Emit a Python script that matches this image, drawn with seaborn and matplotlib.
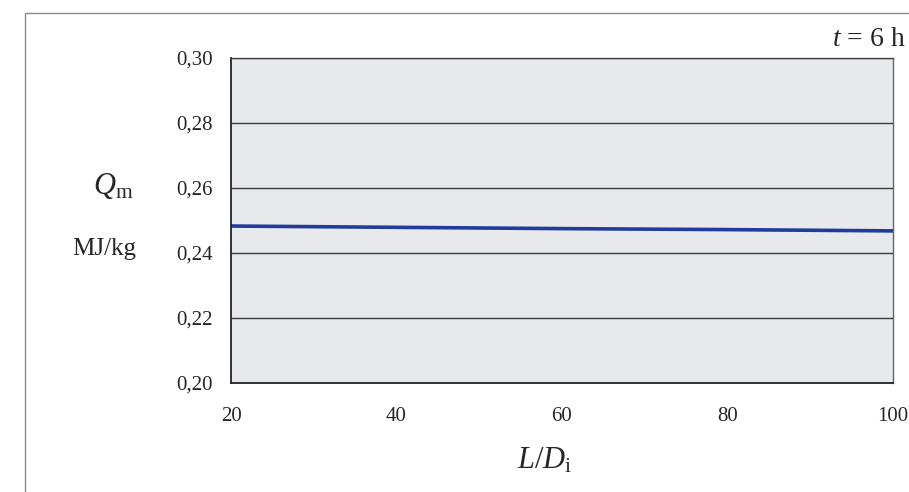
import matplotlib
matplotlib.use("Agg")
import matplotlib.pyplot as plt
import matplotlib.patches as patches
import seaborn as sns
import pandas as pd

# -----------------------
# Data
# -----------------------
ratio = [20, 40, 60, 80, 100]
heat = [0.2483, 0.2479, 0.2475, 0.2472, 0.2468]
y_ticks = [0.20, 0.22, 0.24, 0.26, 0.28, 0.30]
x_ticks = [20, 40, 60, 80, 100]

df = pd.DataFrame({"LD": ratio, "Qm": heat})

sns.set_theme(style="white")
plt.rcParams["font.family"] = ["Liberation Serif", "DejaVu Serif"]
plt.rcParams["mathtext.fontset"] = "custom"
plt.rcParams["mathtext.rm"] = "Liberation Serif"
plt.rcParams["mathtext.it"] = "Liberation Serif:italic"

fig = plt.figure(figsize=(9.09, 4.92), dpi=100)
ax = fig.add_axes([231 / 909, 1 - 383 / 492, (893 - 231) / 909, (383 - 58) / 492])

# outer frame of the chart
frame = patches.Rectangle((25 / 909, -0.1), 1.0, 1 - 13 / 492 + 0.1, transform=fig.transFigure,
                          fill=False, edgecolor="#8a8a8a", linewidth=1.0)
fig.patches.append(frame)

ax.set_facecolor("#e7e9ec")
sns.lineplot(data=df, x="LD", y="Qm", ax=ax, color="#1f3c9c", linewidth=2.6)

ax.set_xlim(20, 100)
ax.set_ylim(0.20, 0.30)
ax.set_xticks(x_ticks)
ax.set_yticks(y_ticks)
ax.set_xticklabels([str(v) for v in x_ticks], fontsize=15)
ax.set_yticklabels([f"{v:.2f}".replace(".", ",") for v in y_ticks], fontsize=15)
ax.yaxis.grid(True, color="#3a3a3a", linewidth=1.0)
ax.set_axisbelow(False)
ax.tick_params(axis="y", direction="out", length=7, width=1, color="#222222", pad=6)
ax.tick_params(axis="x", direction="inout", length=6, width=1, color="#222222", pad=14)
ax.set_xlabel("")
ax.set_ylabel("")

for side in ["left", "bottom"]:
    ax.spines[side].set_color("#222222")
    ax.spines[side].set_linewidth(1.3)
for side in ["top", "right"]:
    ax.spines[side].set_color("#666666")
    ax.spines[side].set_linewidth(1.0)

fig.text(113 / 909, 1 - 186 / 492, r"$Q_{\mathrm{m}}$", fontsize=22, ha="center", va="center")
fig.text(104 / 909, 1 - 249 / 492, "MJ/kg", fontsize=18, ha="center", va="center")
fig.text(905 / 909, 1 - 40 / 492, r"$t$ = 6 h", fontsize=20, ha="right", va="center")
fig.text(545 / 909, 1 - 461 / 492, r"$L/D_{\mathrm{i}}$", fontsize=22, ha="center", va="center")

plt.savefig("out.png", dpi=100)
plt.close()
